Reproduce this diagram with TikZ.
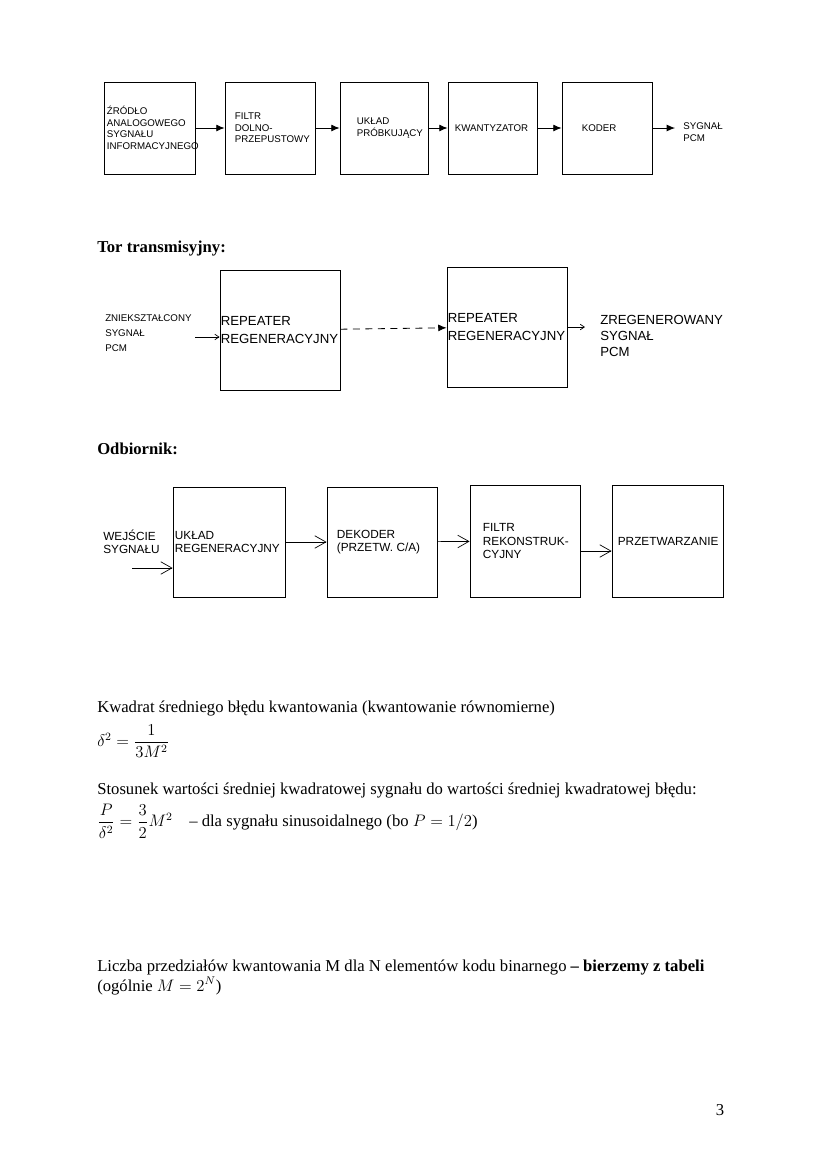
\documentclass[tikz,border=0pt]{standalone}
\usepackage{amsmath}
\usepackage{fontspec}
\setmainfont{Liberation Serif}
\newfontfamily\opisfont{Liberation Sans}
\usetikzlibrary{arrows.meta}
\newcommand{\pix}{0.72pt}
\hyphenpenalty=10000

\begin{document}
\begin{tikzpicture} [
    x=0.72pt, y=-0.72pt,
    blok/.style     = { rectangle, draw=black, line width=0.6pt, inner sep=0pt },
    opis/.style     = { anchor=west, align=left, inner sep=0pt },
    napis1/.style   = { opis, font=\opisfont\fontsize{7}{8.3}\selectfont },
    napis2/.style   = { opis, font=\opisfont\fontsize{9.5}{12.5}\selectfont },
    napis3/.style   = { opis, font=\opisfont\fontsize{8.5}{9.6}\selectfont },
    tekst/.style    = { anchor=base west, inner sep=0pt,
                        font=\fontsize{12}{14.4}\selectfont },
    naglowek/.style = { tekst, font=\fontsize{12}{14.4}\selectfont\bfseries },
    pelna/.style    = { draw, line width=0.6pt, -{Latex[length=6pt,width=5pt]} },
    cienka/.style   = { draw, line width=0.5pt, -{Straight Barb[length=3pt,width=4pt]} },
    otwarta/.style  = { draw, line width=0.5pt, -{Straight Barb[length=8pt,width=9pt]} },
  ]
\useasboundingbox (0,0) rectangle (827,1169);

% nadajnik
\node[blok, minimum width=91*\pix, minimum height=92*\pix,
      label={[napis1, xshift=3*\pix]west:{ŹRÓDŁO\\ANALOGOWEGO\\SYGNAŁU\\INFORMACYJNEGO}}]
      (zrodlo) at (149.5,128) {};
\node[blok, minimum width=90*\pix, minimum height=92*\pix,
      label={[napis1, xshift=10*\pix]west:{FILTR\\DOLNO-\\PRZEPUSTOWY}}]
      (filtrdp) at (270,128) {};
\node[blok, minimum width=88*\pix, minimum height=92*\pix,
      label={[napis1, xshift=17*\pix]west:{UKŁAD\\PRÓBKUJĄCY}}]
      (probk) at (384,128) {};
\node[blok, minimum width=89*\pix, minimum height=92*\pix,
      label={[napis1, xshift=7*\pix]west:{KWANTYZATOR}}]
      (kwant) at (492.5,128) {};
\node[blok, minimum width=90*\pix, minimum height=92*\pix,
      label={[napis1, xshift=20*\pix]west:{KODER}}]
      (koder) at (607,128) {};
\node[napis1] (sygpcm) at (683,132) {SYGNAŁ\\PCM};
\coordinate (k1) at (675,128);

\path[pelna] (zrodlo)  -- (filtrdp);
\path[pelna] (filtrdp) -- (probk);
\path[pelna] (probk)   -- (kwant);
\path[pelna] (kwant)   -- (koder);
\path[pelna] (koder)   -- (k1);

% tor transmisyjny
\node[naglowek] (tor) at (97,252) {Tor transmisyjny:};
\node[napis1, font=\opisfont\fontsize{7}{10.8}\selectfont] (wejtor) at (105,333)
      {ZNIEKSZTAŁCONY\\SYGNAŁ\\PCM};
\node[blok, minimum width=120*\pix, minimum height=120*\pix,
      label={[napis2, xshift=1*\pix]west:{REPEATER\\REGENERACYJNY}}]
      (rep1) at (280,330) {};
\node[blok, minimum width=120*\pix, minimum height=120*\pix,
      label={[napis2, xshift=1*\pix]west:{REPEATER\\REGENERACYJNY}}]
      (rep2) at (507,327) {};
\node[napis2, font=\opisfont\fontsize{9.5}{11.5}\selectfont] (wyjtor) at (600,336)
      {ZREGENEROWANY\\SYGNAŁ\\PCM};
\coordinate (p2) at (195,337);
\coordinate (k2) at (585,327);

\path[cienka] (p2)   -- (p2 -| rep1.west);
\path[pelna, dash pattern=on 5pt off 4pt] (rep1) -- (rep2);
\path[cienka] (rep2) -- (k2);

% odbiornik
\node[naglowek] (odb) at (97,454) {Odbiornik:};
\node[napis3] (wejodb) at (103,541.5) {WEJŚCIE\\SYGNAŁU};
\node[blok, minimum width=112*\pix, minimum height=110*\pix,
      label={[napis3, xshift=2*\pix]west:{UKŁAD\\REGENERACYJNY}}]
      (ukreg) at (229,542) {};
\node[blok, minimum width=110*\pix, minimum height=110*\pix,
      label={[napis3, xshift=10*\pix]west:{DEKODER\\(PRZETW. C/A)}}]
      (dekoder) at (382,542) {};
\node[blok, minimum width=110*\pix, minimum height=112*\pix,
      label={[napis3, font=\opisfont\fontsize{8.5}{10}\selectfont, xshift=13*\pix]west:{FILTR\\REKONSTRUK-\\CYJNY}}]
      (filtrrek) at (525,541) {};
\node[blok, minimum width=111*\pix, minimum height=112*\pix,
      label={[napis3, xshift=6*\pix]west:{PRZETWARZANIE}}]
      (przetw) at (667.5,541) {};
\coordinate (p3) at (132,568);

\path[otwarta] (p3)      -- (p3 -| ukreg.west);
\path[otwarta] (ukreg)   -- (dekoder);
\path[otwarta] (dekoder) -- (filtrrek);
\path[otwarta] ([yshift=-7.2pt]filtrrek.east) -- ([yshift=-7.2pt]przetw.west);

% wzory
\node[tekst] (t1) at (97,712)
      {Kwadrat średniego błędu kwantowania (kwantowanie równomierne)};
\node[tekst, anchor=west] (w1) at (97,741) {$\delta^2=\dfrac{1}{3M^2}$};
\node[tekst] (t2) at (97,794)
      {Stosunek wartości średniej kwadratowej sygnału do wartości średniej kwadratowej błędu:};
\node[tekst, anchor=west] (w2) at (97,821)
      {$\dfrac{P}{\delta^2}=\dfrac{3}{2}M^2$\quad – dla sygnału sinusoidalnego (bo $P=1/2$)};
\node[tekst] (t3) at (97,971)
      {Liczba przedziałów kwantowania M dla N elementów kodu binarnego \textbf{– bierzemy z tabeli}};
\node[tekst] (t4) at (97,991) {(ogólnie $M=2^N$)};
\node[tekst, anchor=center] (strona) at (720,1110) {3};

\end{tikzpicture}
\end{document}
